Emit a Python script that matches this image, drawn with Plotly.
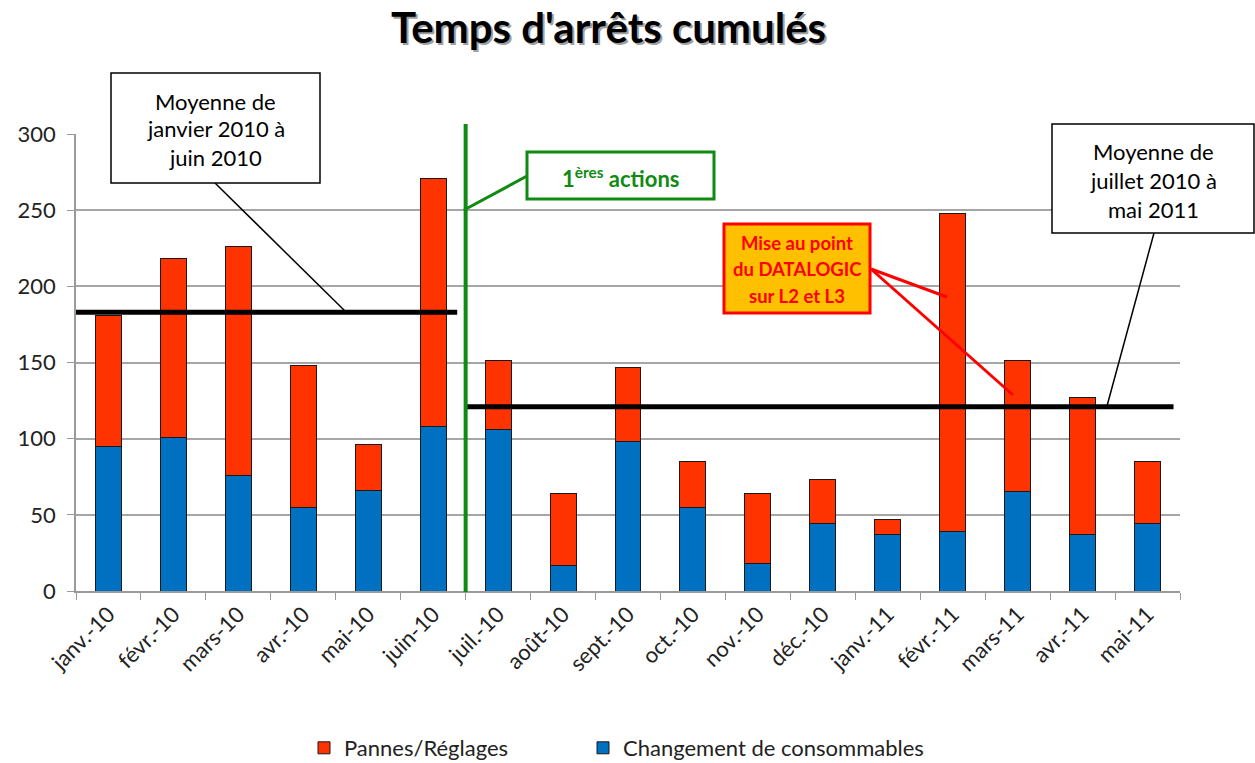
import plotly.graph_objects as go

# Monthly cumulative downtime, split by cause
months = ["janv.-10", "févr.-10", "mars-10", "avr.-10", "mai-10", "juin-10",
          "juil.-10", "août-10", "sept.-10", "oct.-10", "nov.-10", "déc.-10",
          "janv.-11", "févr.-11", "mars-11", "avr.-11", "mai-11"]
consommables = [95, 101, 76, 55, 66, 108, 106, 17, 98, 55, 18, 44, 37, 39, 65, 37, 44]
pannes = [86, 117, 150, 93, 30, 163, 45, 47, 49, 30, 46, 29, 10, 209, 86, 90, 41]

# Period averages (before / after the first actions)
moyenne_avant = 183
moyenne_apres = 121
debut_actions = "juil.-10"

W, H = 1255, 763
L, R, T, B = 76, 1180, 134, 591
FONT = "Lato"

def px(x):
    return (x - L) / (R - L)

def py(y):
    return (B - y) / (B - T)

fig = go.Figure()
fig.add_trace(go.Bar(
    x=months, y=consommables, name="Changement de consommables",
    marker=dict(color="#0070C0", line=dict(color="#1a1a1a", width=1)),
    width=0.4, legend="legend2",
))
fig.add_trace(go.Bar(
    x=months, y=pannes, name="Pannes/Réglages",
    marker=dict(color="#FF3300", line=dict(color="#1a1a1a", width=1)),
    width=0.4, legend="legend",
))

shapes = []
annotations = []

# Average lines
shapes.append(dict(type="line", xref="x", yref="y", x0=-0.56, x1=5.37,
                   y0=moyenne_avant, y1=moyenne_avant,
                   line=dict(color="black", width=5)))
shapes.append(dict(type="line", xref="x", yref="y", x0=5.51, x1=16.4,
                   y0=moyenne_apres, y1=moyenne_apres,
                   line=dict(color="black", width=5)))

# Vertical marker between June and July 2010
GREEN = "#118A11"
idx = months.index(debut_actions)
xg = idx / len(months)
shapes.append(dict(type="line", xref="paper", yref="paper", x0=xg, x1=xg,
                   y0=py(592), y1=py(124), line=dict(color=GREEN, width=4)))


def box(x0, y0, x1, y1, border, fill, bw):
    shapes.append(dict(type="rect", xref="paper", yref="paper",
                       x0=px(x0), x1=px(x1), y0=py(y1), y1=py(y0),
                       line=dict(color=border, width=bw), fillcolor=fill, layer="above"))


def leader(x0, y0, x1, y1, color, w):
    shapes.append(dict(type="line", xref="paper", yref="paper",
                       x0=px(x0), y0=py(y0), x1=px(x1), y1=py(y1),
                       line=dict(color=color, width=w), layer="above"))


def lines_of_text(lines, cx, ys, color, size, bold=False):
    for t, y in zip(lines, ys):
        annotations.append(dict(
            xref="paper", yref="paper", x=px(cx), y=py(y),
            text=f"<b>{t}</b>" if bold else t, showarrow=False,
            xanchor="center", yanchor="middle",
            font=dict(family=FONT, size=size, color=color)))


# Callout: average Jan-Jun 2010
leader(215, 183, 346, 312, "black", 1.5)
box(111, 73, 320, 183, "black", "white", 1.5)
lines_of_text(["Moyenne de", "janvier 2010 à", "juin 2010"], 215.5, [101, 129, 157], "black", 22)

# Callout: average Jul 2010 - May 2011
leader(1154, 233, 1107, 406, "black", 1.5)
box(1052, 124, 1254, 233, "black", "white", 1.5)
lines_of_text(["Moyenne de", "juillet 2010 à", "mai 2011"], 1153, [152, 180, 209], "black", 22)

# Callout: first actions
leader(527, 176, 464, 210, GREEN, 3)
box(527, 152, 714, 199, GREEN, "white", 3)
lines_of_text(["1<sup>ères</sup> actions"], 620, [177], GREEN, 22, bold=True)

# Callout: DATALOGIC tuning
leader(871, 269, 947, 297, "#FF0000", 3)
leader(871, 269, 1013, 395, "#FF0000", 3)
box(724, 224, 870, 313, "#FF0000", "#FFC000", 3)
lines_of_text(["Mise au point", "du DATALOGIC", "sur L2 et L3"], 797, [243, 269, 296], "#FF0000", 18.5, bold=True)

# Title with a soft drop shadow
title = "<b>Temps d'arrêts cumulés</b>"
annotations.append(dict(xref="paper", yref="paper", x=px(610), y=py(29), text=title,
                        showarrow=False, xanchor="center", yanchor="middle",
                        font=dict(family=FONT, size=42, color="#a0a0a0")))
annotations.append(dict(xref="paper", yref="paper", x=px(608), y=py(27), text=title,
                        showarrow=False, xanchor="center", yanchor="middle",
                        font=dict(family=FONT, size=42, color="black")))

legend_font = dict(family=FONT, size=22, color="#222222")
legend_y = (H - 748) / H
fig.update_layout(
    width=W, height=H,
    margin=dict(l=L, r=W - R, t=T, b=H - B, pad=0),
    barmode="stack",
    plot_bgcolor="white", paper_bgcolor="white",
    font=dict(family=FONT, size=22, color="#222222"),
    shapes=shapes,
    annotations=annotations,
    showlegend=True,
    legend=dict(orientation="h", xref="container", yref="container",
                x=304 / W, y=legend_y, xanchor="left", yanchor="middle",
                font=legend_font, itemwidth=30, bgcolor="rgba(0,0,0,0)"),
    legend2=dict(orientation="h", xref="container", yref="container",
                 x=583 / W, y=legend_y, xanchor="left", yanchor="middle",
                 font=legend_font, itemwidth=30, bgcolor="rgba(0,0,0,0)"),
)
fig.update_xaxes(
    type="category", tickson="boundaries", ticks="outside", ticklen=7,
    tickcolor="#9a9a9a", showline=True, linecolor="#9a9a9a", linewidth=1.5,
    showgrid=False, tickangle=-45, range=[-0.5, len(months) - 0.5],
    tickfont=dict(family=FONT, size=22, color="#222222"), automargin=False,
)
fig.update_yaxes(
    range=[0, 300], dtick=50, ticks="outside", ticklen=7, tickcolor="#9a9a9a",
    showline=True, linecolor="#9a9a9a", linewidth=1.5,
    showgrid=True, gridcolor="#a6a6a6", gridwidth=1.5, zeroline=False,
    tickfont=dict(family=FONT, size=22, color="#222222"),
    ticklabelstandoff=7, automargin=False,
)

fig.write_html("out.html")
